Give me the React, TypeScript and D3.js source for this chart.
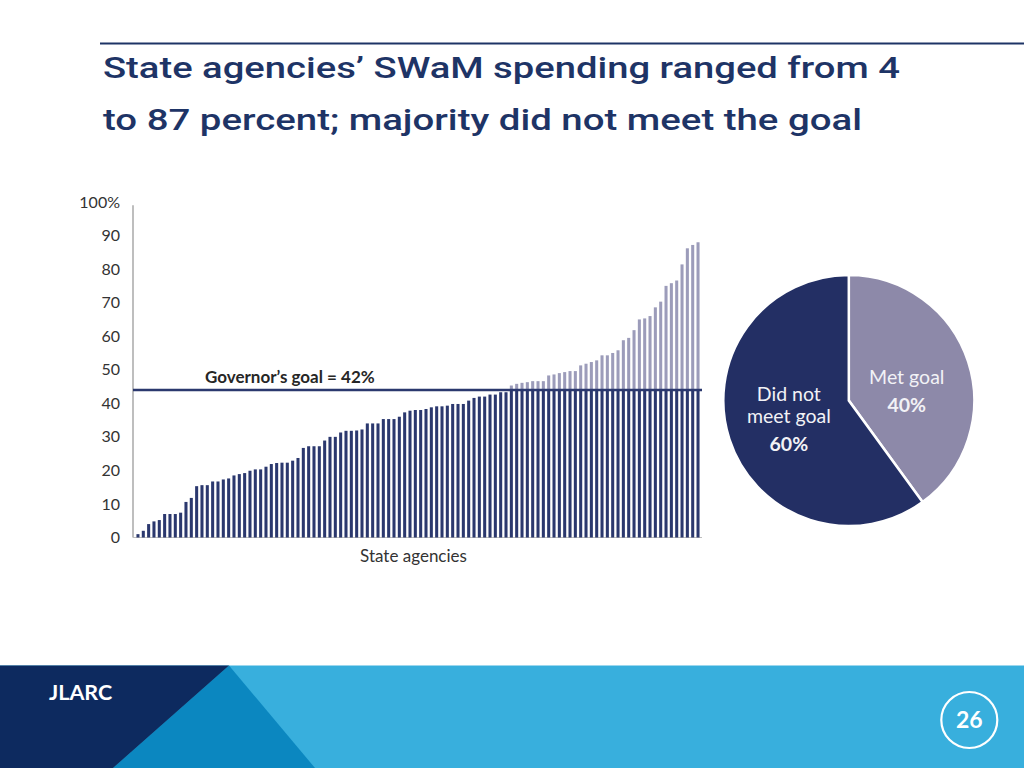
import React from "react";
import * as d3 from "d3";

// ---- Data ----
const titleLines = [
  "State agencies\u2019 SWaM spending ranged from 4",
  "to 87 percent; majority did not meet the goal",
];

// SWaM spending share by agency (sorted), in percent
const spending = [
  1, 2, 4, 4.8, 5.2, 7, 7, 7, 7.4, 10.6,
  11.8, 15.3, 15.6, 15.6, 16.7, 16.7, 17.3, 17.6, 18.5, 18.9,
  19.2, 19.9, 20.3, 20.3, 21.1, 21.9, 22.2, 22.3, 22.3, 22.9,
  23.7, 26.7, 27.2, 27.2, 27.2, 28.9, 30, 30, 31.3, 31.8,
  31.8, 31.9, 32.2, 34, 34, 34, 35.3, 35.3, 35.3, 36,
  37.3, 37.8, 38, 38, 38.3, 38.8, 39.1, 39.1, 39.3, 39.8,
  39.8, 39.8, 40.8, 41.6, 42, 42, 42.6, 42.6, 43.3, 43.3,
  45.3, 45.8, 46.1, 46.3, 46.6, 46.6, 46.6, 48.3, 48.6, 49,
  49.3, 49.6, 49.6, 51.3, 51.8, 52.3, 52.8, 54.3, 54.3, 55,
  55.8, 58.8, 59.5, 61.8, 65, 65.3, 66, 68.6, 70.3, 75,
  75.8, 76.6, 81.4, 86.2, 87.2, 88,
];

const yTicks = [0, 10, 20, 30, 40, 50, 60, 70, 80, 90, 100];
const yTickLabels = ["0", "10", "20", "30", "40", "50", "60", "70", "80", "90", "100%"];

const goalLineLevel = 44; // where the goal line sits on the chart's axis
const goalLabel = "Governor\u2019s goal = 42%";
const xAxisTitle = "State agencies";

const pieLabels = ["Met goal", "Did not meet goal"];
const pieValues = [40, 60];
const pieLabelLines = [["Met goal"], ["Did not", "meet goal"]];
const piePctLabels = ["40%", "60%"];

const footerLabel = "JLARC";
const pageNumber = "26";

// ---- Styles ----
const NAVY = "#2b386e";
const GRAY_BAR = "#9c9cba";
const PIE_NAVY = "#232f64";
const PIE_GRAY = "#8d89a9";
const TITLE_BLUE = "#1e3466";
const TEXT = "#333333";
const FONT = "Lato, 'Open Sans', sans-serif";

export default function App() {
  const W = 1024;
  const H = 768;

  const ids = spending.map((_, i) => i);
  const x = d3
    .scaleBand<number>()
    .domain(ids)
    .range([135.3, 700.7])
    .paddingInner(0.43)
    .paddingOuter(0.215);
  const y = d3.scaleLinear().domain([0, 100]).range([537.5, 202]);

  const axisX = 133;
  const chartRight = 702;

  // pie
  const cx = 848.8;
  const cy = 400.5;
  const R = 125.5;
  const pie = d3
    .pie<number>()
    .sort(null)
    .value((d) => d)
    .startAngle(0)
    .endAngle(2 * Math.PI);
  const arcs = pie(pieValues);
  const arc = d3.arc<d3.PieArcDatum<number>>().innerRadius(0).outerRadius(R);
  const labelArc = d3
    .arc<d3.PieArcDatum<number>>()
    .innerRadius(62)
    .outerRadius(62);

  return (
    <svg
      width={W}
      height={H}
      style={{ position: "absolute", left: 0, top: 0, background: "#fff" }}
    >
      <rect x={0} y={0} width={W} height={H} fill="#ffffff" />
      {/* top rule */}
      <line x1={100} x2={W} y1={43.5} y2={43.5} stroke={TITLE_BLUE} strokeWidth={2} />
      {/* title */}
      {titleLines.map((t, i) => (
        <text
          key={i}
          x={103}
          y={i === 0 ? 78 : 129.5}
          fill={TITLE_BLUE}
          fontFamily="Roboto, sans-serif"
          fontWeight={500}
          fontSize={29.5}
          textLength={i === 0 ? 797 : 759}
          lengthAdjust="spacingAndGlyphs"
        >
          {t}
        </text>
      ))}

      {/* y axis ticks */}
      {yTicks.map((t, i) => (
        <text
          key={t}
          x={120}
          y={y(t)}
          dy="0.35em"
          textAnchor="end"
          fill={TEXT}
          fontFamily={FONT}
          fontSize={16}
        >
          {yTickLabels[i]}
        </text>
      ))}
      <line
        x1={axisX}
        x2={axisX}
        y1={y(99)}
        y2={y(0)}
        stroke="#a8a8a8"
        strokeWidth={1.5}
      />
      <line
        x1={axisX}
        x2={chartRight}
        y1={y(0)}
        y2={y(0)}
        stroke="#bdbdbd"
        strokeWidth={1}
      />

      {/* bars: portion up to goal line in navy, above in gray */}
      {spending.map((v, i) => {
        const low = Math.min(v, goalLineLevel);
        return (
          <g key={i}>
            <rect
              x={x(i)}
              width={x.bandwidth()}
              y={y(low)}
              height={y(0) - y(low)}
              fill={NAVY}
            />
            {v > goalLineLevel && (
              <rect
                x={x(i)}
                width={x.bandwidth()}
                y={y(v)}
                height={y(goalLineLevel) - y(v)}
                fill={GRAY_BAR}
              />
            )}
          </g>
        );
      })}

      {/* goal line */}
      <line
        x1={axisX}
        x2={chartRight}
        y1={y(goalLineLevel)}
        y2={y(goalLineLevel)}
        stroke={NAVY}
        strokeWidth={2.5}
      />
      <text
        x={205}
        y={383}
        fill="#262626"
        fontFamily={FONT}
        fontWeight={700}
        fontSize={17}
      >
        {goalLabel}
      </text>
      <text
        x={413.5}
        y={562}
        textAnchor="middle"
        fill={TEXT}
        fontFamily={FONT}
        fontSize={17}
      >
        {xAxisTitle}
      </text>

      {/* pie */}
      <g transform={`translate(${cx},${cy})`}>
        {arcs.map((a, i) => (
          <path
            key={pieLabels[i]}
            d={arc(a) || ""}
            fill={i === 0 ? PIE_GRAY : PIE_NAVY}
            stroke="#ffffff"
            strokeWidth={2.5}
          />
        ))}
        {arcs.map((a, i) => {
          const [lx, ly] = labelArc.centroid(a);
          const lines = pieLabelLines[i];
          const lh = 22;
          const total = lines.length * lh + 27;
          const top = ly - total / 2 + (i === 0 ? 9 : -1);
          return (
            <text
              key={"l" + i}
              textAnchor="middle"
              fill="#f2f2f6"
              fontFamily={FONT}
              fontSize={19.5}
            >
              {lines.map((ln, j) => (
                <tspan key={j} x={lx - 1} y={top + lh * (j + 1) - 4}>
                  {ln}
                </tspan>
              ))}
              <tspan
                x={lx - 1}
                y={top + lh * lines.length + 24}
                fontWeight={700}
              >
                {piePctLabels[i]}
              </tspan>
            </text>
          );
        })}
      </g>

      {/* footer */}
      <rect x={0} y={665.5} width={W} height={H - 665.5} fill="#38afdd" />
      <polygon points={`229,665.5 315,768 113,768`} fill="#0b87c0" />
      <polygon points={`0,665.5 229,665.5 113,768 0,768`} fill="#0d2a5f" />
      <text
        x={49}
        y={700}
        fill="#ffffff"
        fontFamily={FONT}
        fontWeight={700}
        fontSize={21.5}
      >
        {footerLabel}
      </text>
      <circle cx={969.3} cy={720} r={28} fill="none" stroke="#ffffff" strokeWidth={2.2} />
      <text
        x={969.3}
        y={720}
        dy="0.36em"
        textAnchor="middle"
        fill="#ffffff"
        fontFamily={FONT}
        fontWeight={700}
        fontSize={23}
      >
        {pageNumber}
      </text>
    </svg>
  );
}
